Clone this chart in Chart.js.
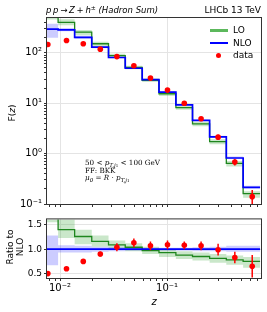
<!DOCTYPE html>
<html><head><meta charset="utf-8">
<script src="https://cdn.jsdelivr.net/npm/chart.js@4.4.0/dist/chart.umd.min.js"></script>
<style>
html,body{margin:0;padding:0;width:267px;height:312px;overflow:hidden;background:#fff;font-family:"DejaVu Sans",sans-serif;}
canvas{position:absolute;left:0;}
#c1{top:0}
#c2{top:212px}
.t{position:absolute;white-space:nowrap;color:#000;font-size:9px;line-height:1;}
.rot{transform:translate(-50%,-50%) rotate(-90deg);text-align:center;line-height:10px;}
.ctr{transform:translate(0,-50%);}
sup{font-size:6px;vertical-align:3px;line-height:0;}
sub{font-size:5.5px;vertical-align:-2px;line-height:0;}
.serif{font-family:"DejaVu Serif","Liberation Serif",serif;font-size:7.2px;}
.sw{position:absolute;}
</style></head>
<body>
<canvas id="c1" width="267" height="212"></canvas>
<canvas id="c2" width="267" height="100"></canvas>

<div class="t ctr" style="left:46px;top:10px;font-size:8.5px;"><i>p</i>&thinsp;<i>p</i>&thinsp;→&thinsp;<i>Z</i>&thinsp;+&thinsp;<i>h</i><sup>±</sup> <i>(Hadron Sum)</i></div>
<div class="t ctr" style="right:6px;top:10px;">LHCb 13 TeV</div>

<div class="sw" style="left:210px;top:29px;width:18px;height:3px;background:#5cb85c;"></div>
<div class="t ctr" style="left:233px;top:30px;">LO</div>
<div class="sw" style="left:210px;top:42px;width:18px;height:1.6px;background:#0000ff;"></div>
<div class="t ctr" style="left:233px;top:43px;">NLO</div>
<div class="sw" style="left:215.5px;top:52.5px;width:5px;height:5px;border-radius:50%;background:#ff0000;"></div>
<div class="t ctr" style="left:233px;top:55px;">data</div>

<div class="t ctr serif" style="left:85px;top:163.3px;">50 &lt; <i>p</i><sub><i>T,j</i><span style="font-size:4px">1</span></sub> &lt; 100 GeV</div>
<div class="t ctr serif" style="left:85px;top:170.5px;">FF: BKK</div>
<div class="t ctr serif" style="left:85px;top:177.8px;"><i>μ</i><sub><i>0</i></sub> = <i>R</i> · <i>p</i><sub><i>T,j</i><span style="font-size:4px">1</span></sub></div>

<div class="t rot" style="left:12px;top:113px;">F(<i>z</i>)</div>
<div class="t rot" style="left:15px;top:247px;">Ratio to<br>NLO</div>
<div class="t" style="left:154px;top:302px;transform:translate(-50%,-50%);font-size:10px;"><i>z</i></div>

<script>
// ---------- data ----------
const binEdges = [0.0067, 0.0096, 0.0137, 0.0198, 0.0284, 0.0407, 0.0586, 0.0841, 0.121, 0.173, 0.25, 0.358, 0.514, 0.74];
const zData    = [0.0077, 0.0115, 0.0165, 0.0238, 0.034, 0.049, 0.070, 0.101, 0.145, 0.208, 0.300, 0.430, 0.625];

const nloF   = [295, 286, 203, 130, 80.7, 49.3, 29.3, 16.6, 9.27, 4.57, 2.14, 0.818, 0.214];
const nloFLo = [198, 266, 189, 123.5, 77.5, 47.8, 28.4, 16.1, 9.0, 4.39, 2.05, 0.777, 0.203];
const nloFHi = [378, 309, 217, 136.5, 83.9, 50.8, 30.2, 17.1, 9.55, 4.75, 2.25, 0.875, 0.229];

const loF    = [531, 400, 256, 151, 88, 51.3, 28.4, 15.4, 8.2, 3.9, 1.73, 0.64, 0.16];
const loFLo  = [457, 352, 223, 137, 80.7, 47.3, 26.4, 13.9, 7.4, 3.5, 1.54, 0.556, 0.133];
const loFHi  = [620, 463, 284, 166, 95.2, 55.2, 30.8, 16.6, 8.9, 4.25, 1.93, 0.71, 0.18];

const dataF    = [146, 175, 151, 118, 84, 55.5, 31.5, 18.2, 10.0, 4.9, 2.12, 0.68, 0.14];
const dataFErr = [9, 12, 10, 7, 6.5, 4.4, 2.6, 1.5, 0.74, 0.41, 0.25, 0.1, 0.05];

const ratioNLO   = [1, 1, 1, 1, 1, 1, 1, 1, 1, 1, 1, 1, 1];
const ratioNLOLo = [0.67, 0.93, 0.93, 0.95, 0.96, 0.97, 0.97, 0.97, 0.97, 0.96, 0.96, 0.95, 0.95];
const ratioNLOHi = [1.28, 1.08, 1.07, 1.05, 1.04, 1.03, 1.03, 1.03, 1.03, 1.04, 1.05, 1.07, 1.07];
const ratioLO    = [1.8, 1.40, 1.26, 1.16, 1.09, 1.04, 0.97, 0.93, 0.88, 0.85, 0.81, 0.78, 0.75];
const ratioLOLo  = [1.55, 1.23, 1.10, 1.05, 1.00, 0.96, 0.90, 0.84, 0.80, 0.77, 0.72, 0.68, 0.62];
const ratioLOHi  = [2.1, 1.62, 1.40, 1.28, 1.18, 1.12, 1.05, 1.00, 0.96, 0.93, 0.90, 0.87, 0.84];
const ratioData    = [0.50, 0.60, 0.75, 0.90, 1.04, 1.13, 1.07, 1.09, 1.08, 1.07, 0.99, 0.83, 0.65];
const ratioDataErr = [0.03, 0.04, 0.05, 0.05, 0.08, 0.09, 0.09, 0.09, 0.08, 0.09, 0.12, 0.12, 0.23];

const xTickValues = [0.008, 0.009, 0.01, 0.02, 0.03, 0.04, 0.05, 0.06, 0.07, 0.08, 0.09, 0.1, 0.2, 0.3, 0.4, 0.5, 0.6, 0.7];
const xTickLabels = {0.01: '10⁻²', 0.1: '10⁻¹'};
const yTopTickValues = [0.1,0.2,0.3,0.4,0.5,0.6,0.7,0.8,0.9,1,2,3,4,5,6,7,8,9,10,20,30,40,50,60,70,80,90,100,200,300,400];
const yTopTickLabels = {0.1: '10⁻¹', 1: '10⁰', 10: '10¹', 100: '10²'};
const yRatioTickValues = [0.5, 1.0, 1.5];

// ---------- helpers ----------
const steps = vals => binEdges.map((e, i) => ({x: e, y: vals[Math.min(i, vals.length - 1)]}));
const pts = (xs, ys) => xs.map((x, i) => ({x, y: ys[i]}));
const isMajor = v => v != null && Math.abs(Math.log10(v) - Math.round(Math.log10(v))) < 1e-9;

Chart.defaults.font.family = '"DejaVu Sans", sans-serif';
Chart.defaults.font.size = 9;
Chart.defaults.color = '#000';

const GREEN = '#1e861e', BLUE = '#0000ff', RED = '#ff0000';
const GREEN_BAND = 'rgba(44,160,44,0.25)', BLUE_BAND = 'rgba(0,0,255,0.2)';

const frame = {
  id: 'frame',
  afterDraw(chart) {
    const a = chart.chartArea, c = chart.ctx;
    c.save(); c.strokeStyle = '#333'; c.lineWidth = 1;
    c.strokeRect(a.left - 0.5, a.top - 0.5, a.right - a.left + 1, a.bottom - a.top + 1);
    c.restore();
  }
};
const errorBars = {
  id: 'errorBars',
  afterDatasetsDraw(chart) {
    const c = chart.ctx, xs = chart.scales.x, ys = chart.scales.y, a = chart.chartArea;
    chart.data.datasets.forEach(ds => {
      if (!ds.errors) return;
      c.save();
      c.beginPath(); c.rect(a.left, a.top, a.right - a.left, a.bottom - a.top); c.clip();
      c.strokeStyle = RED; c.lineWidth = 1.5;
      ds.data.forEach((p, i) => {
        const e = ds.errors[i];
        const px = xs.getPixelForValue(p.x);
        const lo = Math.max(p.y - e, 1e-6);
        c.beginPath();
        c.moveTo(px, ys.getPixelForValue(lo));
        c.lineTo(px, ys.getPixelForValue(p.y + e));
        c.stroke();
      });
      c.restore();
    });
  }
};

function datasets(lo, loLo, loHi, nlo, nloLo, nloHi, dat, datErr) {
  return [
    {data: steps(loLo), stepped: true, borderWidth: 0, pointRadius: 0, fill: false, order: 10},
    {data: steps(loHi), stepped: true, borderWidth: 0, pointRadius: 0, fill: 0, backgroundColor: GREEN_BAND, order: 9},
    {data: steps(nloLo), stepped: true, borderWidth: 0, pointRadius: 0, fill: false, order: 8},
    {data: steps(nloHi), stepped: true, borderWidth: 0, pointRadius: 0, fill: 2, backgroundColor: BLUE_BAND, order: 7},
    {label: 'LO', data: steps(lo), stepped: true, borderColor: GREEN, borderWidth: 1.3, pointRadius: 0, fill: false, order: 3},
    {label: 'NLO', data: steps(nlo), stepped: true, borderColor: BLUE, borderWidth: 1.7, pointRadius: 0, fill: false, order: 2},
    {label: 'data', data: pts(zData, dat), errors: datErr, showLine: false, pointRadius: 2.8, pointBackgroundColor: RED, pointBorderWidth: 0, borderColor: RED, order: 0}
  ];
}

const xScale = (showLabels) => ({
  type: 'logarithmic', min: 0.00756, max: 0.755,
  afterBuildTicks: s => { s.ticks = xTickValues.map(v => ({value: v, major: isMajor(v)})); },
  afterFit: s => { s.height = showLabels ? 34 : 4; },
  border: {display: false},
  grid: {color: c => (c.tick && isMajor(c.tick.value)) ? '#e4e4e4' : 'rgba(0,0,0,0)', lineWidth: 1, tickColor: '#333', tickLength: 3, drawTicks: true},
  ticks: {display: showLabels, autoSkip: false, maxRotation: 0, padding: 1, font: {size: 10},
          callback: v => xTickLabels[v] || ''}
});

new Chart(document.getElementById('c1'), {
  type: 'line',
  data: {datasets: datasets(loF, loFLo, loFHi, nloF, nloFLo, nloFHi, dataF, dataFErr)},
  options: {
    responsive: false, animation: false, events: [],
    layout: {padding: {top: 18, right: 6, left: 0, bottom: 0}},
    plugins: {legend: {display: false}, tooltip: {enabled: false}},
    scales: {
      x: xScale(false),
      y: {
        type: 'logarithmic', min: 0.1, max: 490,
        afterBuildTicks: s => { s.ticks = yTopTickValues.map(v => ({value: v, major: isMajor(v)})); },
        afterFit: s => { s.width = 47; },
        border: {display: false},
        grid: {color: c => (c.tick && isMajor(c.tick.value) && c.tick.value > 0.1) ? '#e4e4e4' : 'rgba(0,0,0,0)', tickColor: '#333', tickLength: 3},
        ticks: {autoSkip: false, padding: 2, font: {size: 10}, callback: v => yTopTickLabels[v] || ''}
      }
    }
  },
  plugins: [errorBars, frame]
});

new Chart(document.getElementById('c2'), {
  type: 'line',
  data: {datasets: datasets(ratioLO, ratioLOLo, ratioLOHi, ratioNLO, ratioNLOLo, ratioNLOHi, ratioData, ratioDataErr)},
  options: {
    responsive: false, animation: false, events: [],
    layout: {padding: {top: 3, right: 6, left: 0, bottom: 0}},
    plugins: {legend: {display: false}, tooltip: {enabled: false}},
    scales: {
      x: xScale(true),
      y: {
        type: 'linear', min: 0.41, max: 1.61,
        afterBuildTicks: s => { s.ticks = yRatioTickValues.map(v => ({value: v})); },
        afterFit: s => { s.width = 47; },
        border: {display: false},
        grid: {color: '#e4e4e4', tickColor: '#333', tickLength: 3},
        ticks: {autoSkip: false, padding: 2, callback: v => Number(v).toFixed(1)}
      }
    }
  },
  plugins: [errorBars, frame]
});
</script>
</body></html>
